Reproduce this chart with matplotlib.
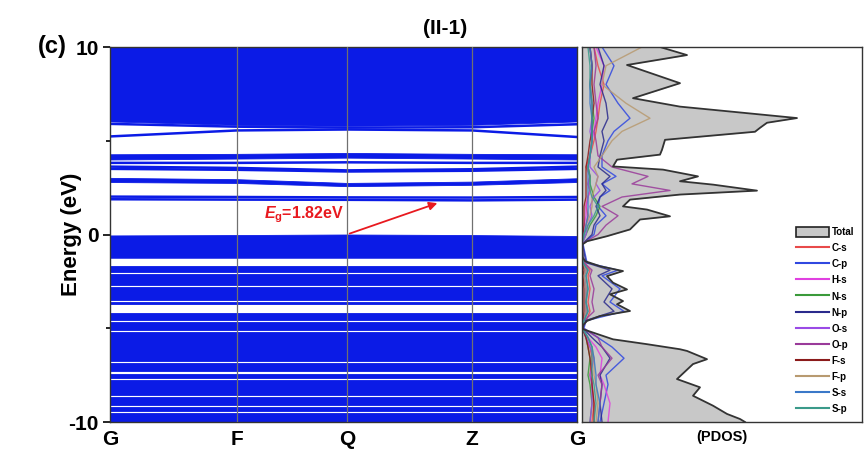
import matplotlib
matplotlib.use('Agg')
import matplotlib.pyplot as plt
import numpy as np
from matplotlib.patches import Patch
from matplotlib.lines import Line2D

plt.rcParams['font.family'] = ['Liberation Sans', 'DejaVu Sans']
plt.rcParams['font.weight'] = 'bold'
plt.rcParams['axes.labelweight'] = 'bold'
plt.rcParams['axes.unicode_minus'] = False
plt.rcParams['mathtext.fontset'] = 'custom'
plt.rcParams['mathtext.it'] = 'Liberation Sans:italic:bold'
plt.rcParams['mathtext.bf'] = 'Liberation Sans:bold'
plt.rcParams['mathtext.rm'] = 'Liberation Sans:bold'

# k-path
kpath_labels = ['G', 'F', 'Q', 'Z', 'G']
kpath_pos = [0.0, 1.27, 2.37, 3.62, 4.67]

# dense band groups (top edge, bottom edge) at the k-points
conduction_blocks = [
    (10.5, [6.03, 5.85, 5.8, 5.85, 6.03]),
    ([4.28, 4.3, 4.35, 4.3, 4.28], [4.0, 4.05, 4.1, 4.05, 4.0]),
    ([3.02, 2.95, 2.75, 2.82, 3.0], [2.8, 2.75, 2.58, 2.65, 2.8]),
]
valence_blocks = [
    ([-0.05, -0.03, 0.0, -0.03, -0.08], -1.24),
    (-1.69, -1.98),
    (-2.1, -2.7),
    (-2.8, -3.5),
    (-3.6, -3.7),
    (-4.17, -4.55),
    (-4.67, -5.08),
    (-5.2, -6.77),
    (-6.87, -7.3),
    (-7.42, -7.66),
    (-7.76, -8.55),
    (-8.65, -9.08),
    (-9.18, -9.43),
    (-9.53, -10.5),
]
# single bands
single_bands = [
    [5.23, 5.55, 5.6, 5.55, 5.2],
    [5.9, 5.75, 5.7, 5.72, 5.88],
    [3.82, 3.82, 3.85, 3.82, 3.82],
    [3.62, 3.55, 3.42, 3.48, 3.62],
    [3.5, 3.45, 3.36, 3.4, 3.5],
    [2.02, 2.0, 1.98, 1.97, 2.0],
    [1.88, 1.86, 1.85, 1.82, 1.86],
]

# total DOS
total_energy = [-10.0, -9.84, -9.57, -9.13, -8.6, -8.15, -7.71, -6.91, -6.65, -6.21,
                -6.12, -5.85, -5.59, -5.05, -4.84, -4.61, -4.35, -4.08, -3.72, -3.55,
                -3.19, -2.93, -2.57, -2.22, -1.95, -1.69, -1.42, -1.2, -0.53, -0.36,
                -0.09, 0.27, 0.8, 0.97, 1.33, 1.5, 1.86, 2.13, 2.34, 2.66,
                2.84, 3.1, 3.46, 3.63, 3.99, 4.26, 4.52, 5.05, 5.48, 5.69,
                5.96, 6.21, 6.56, 6.82, 7.27, 8.07, 9.04, 9.57, 10.0]
total_dos = [8.15, 7.9, 7.25, 6.55, 5.55, 5.9, 4.75, 5.55, 6.25, 5.25,
             4.9, 3.25, 1.55, 0.05, 0.05, 0.25, 0.9, 2.4, 1.75, 2.05,
             1.4, 2.25, 1.55, 1.25, 2.05, 0.9, 0.15, 0.02, 0.02, 0.25,
             1.25, 2.4, 2.9, 4.4, 3.25, 2.05, 2.4, 4.9, 8.75, 6.55,
             4.9, 5.8, 4.05, 1.55, 1.75, 3.9, 4.0, 4.15, 8.65, 8.9,
             9.25, 10.75, 7.4, 4.9, 2.55, 4.9, 2.25, 5.25, 3.9]

# projected DOS
pdos_energy = [-10, -9, -8, -7.5, -6.6, -6, -5.5, -5, -4.6, -4.1, -3.6, -2.9, -2.2, -1.9, -1.5,
               -0.5, 0, 0.5, 1, 1.5, 2, 2.35, 2.7, 3.1, 3.6, 4.2, 5, 5.5, 6.2, 7, 8, 9, 10]
pdos_labels = ['C-s', 'C-p', 'H-s', 'N-s', 'N-p', 'O-s', 'O-p', 'F-s', 'F-p', 'S-s', 'S-p']
pdos_colors = ['#e84a4a', '#3048e0', '#e040e0', '#3a9a3a', '#2a2a8c', '#9a4ae6',
               '#9a3a9a', '#8b1a1a', '#b89a70', '#3a78c8', '#3a9a8a']
c_s = [0.5, 0.6, 0.5, 0.4, 0.5, 0.4, 0.2, 0.05, 0.2, 0.4, 0.3, 0.4, 0.3, 0.4, 0.1,
       0.0, 0.1, 0.2, 0.3, 0.2, 0.3, 0.4, 0.3, 0.4, 0.2, 0.4, 0.6, 0.7, 0.8, 0.9, 1.1, 0.8, 0.6]
c_p = [0.9, 1.1, 1.3, 1.2, 2.1, 1.5, 0.8, 0.1, 0.2, 2.1, 1.4, 1.9, 1.0, 1.8, 0.25,
       0.05, 0.6, 0.7, 1.2, 0.8, 0.9, 1.4, 1.0, 1.7, 1.0, 1.0, 1.3, 1.6, 2.4, 1.8, 1.2, 1.6, 1.0]
h_s = [1.3, 1.4, 1.1, 0.9, 1.0, 0.7, 0.3, 0.02, 0.1, 0.2, 0.2, 0.2, 0.1, 0.2, 0.05,
       0.0, 0.05, 0.1, 0.2, 0.2, 0.3, 0.4, 0.3, 0.4, 0.3, 0.4, 0.5, 0.6, 0.7, 0.8, 1.0, 1.1, 0.7]
n_s = [0.4, 0.5, 0.4, 0.3, 0.4, 0.3, 0.2, 0.02, 0.1, 0.2, 0.2, 0.2, 0.1, 0.2, 0.05,
       0.0, 0.2, 0.4, 0.7, 0.9, 0.6, 0.5, 0.4, 0.4, 0.3, 0.4, 0.5, 0.5, 0.6, 0.5, 0.4, 0.5, 0.4]
n_p = [1.0, 0.9, 1.0, 0.9, 1.4, 1.0, 0.5, 0.05, 0.15, 1.6, 1.1, 1.5, 0.8, 1.4, 0.2,
       0.02, 0.5, 0.6, 0.9, 0.7, 0.9, 1.2, 1.0, 1.4, 0.8, 0.9, 1.1, 1.0, 1.3, 1.2, 0.9, 1.1, 0.8]
o_s = [0.4, 0.5, 0.5, 0.4, 0.6, 0.4, 0.2, 0.02, 0.1, 0.2, 0.2, 0.2, 0.1, 0.2, 0.05,
       0.0, 0.2, 0.3, 0.5, 0.4, 0.6, 0.9, 0.7, 0.8, 0.4, 0.4, 0.5, 0.4, 0.5, 0.5, 0.4, 0.5, 0.4]
o_p = [0.8, 0.9, 1.0, 0.8, 1.5, 1.0, 0.8, 0.05, 0.1, 0.6, 0.5, 0.6, 0.4, 0.5, 0.1,
       0.0, 0.8, 1.2, 1.8, 1.0, 2.0, 4.4, 2.5, 3.3, 1.5, 0.8, 0.7, 0.6, 0.8, 0.7, 0.6, 0.7, 0.6]
f_s = [0.6, 0.6, 0.5, 0.5, 0.4, 0.3, 0.2, 0.02, 0.05, 0.1, 0.1, 0.1, 0.05, 0.1, 0.02,
       0.0, 0.05, 0.1, 0.1, 0.1, 0.2, 0.2, 0.2, 0.2, 0.2, 0.3, 0.4, 0.5, 0.5, 0.6, 0.5, 0.5, 0.4]
f_p = [0.7, 0.8, 0.7, 0.6, 0.6, 0.5, 0.3, 0.02, 0.1, 0.2, 0.2, 0.2, 0.1, 0.2, 0.05,
       0.0, 0.1, 0.2, 0.4, 0.5, 0.5, 0.6, 0.7, 0.8, 0.6, 1.0, 1.5, 2.0, 3.4, 2.2, 1.0, 1.2, 3.0]
s_s = [0.8, 0.9, 0.7, 0.7, 0.6, 0.5, 0.3, 0.02, 0.1, 0.3, 0.2, 0.3, 0.2, 0.3, 0.05,
       0.0, 0.1, 0.2, 0.3, 0.3, 0.3, 0.3, 0.3, 0.3, 0.3, 0.4, 0.5, 0.5, 0.5, 0.4, 0.4, 0.5, 0.4]
s_p = [0.6, 0.7, 0.6, 0.5, 0.5, 0.5, 0.3, 0.02, 0.1, 0.3, 0.2, 0.3, 0.2, 0.3, 0.05,
       0.0, 0.1, 0.3, 0.6, 0.8, 0.5, 0.4, 0.4, 0.4, 0.3, 0.4, 0.5, 0.5, 0.5, 0.5, 0.4, 0.4, 0.3]
pdos_values = [c_s, c_p, h_s, n_s, n_p, o_s, o_p, f_s, f_p, s_s, s_p]

band_color = '#0b1be6'
red = '#e8191f'

fig = plt.figure(figsize=(8.65, 4.55), dpi=100)
ax = fig.add_axes([110 / 865, 1 - 422 / 455, 467 / 865, 375 / 455])
axd = fig.add_axes([582 / 865, 1 - 422 / 455, 280 / 865, 375 / 455])

# band structure
for top, bottom in conduction_blocks + valence_blocks:
    ax.fill_between(kpath_pos, top, bottom, color=band_color, lw=0.6)
for band in single_bands:
    ax.plot(kpath_pos, band, color=band_color, lw=1.8)
for k in kpath_pos[1:-1]:
    ax.axvline(k, color='#707070', lw=0.9, zorder=3)

ax.set_xlim(kpath_pos[0], kpath_pos[-1])
ax.set_ylim(-10, 10)
ax.set_xticks(kpath_pos)
ax.set_xticklabels(kpath_labels, fontsize=15)
ax.tick_params(axis='x', length=0, pad=6)
ax.set_yticks([-10, 0, 10])
ax.set_yticks([-5, 5], minor=True)
ax.tick_params(axis='y', which='major', length=5, width=1.2, labelsize=15, pad=3)
ax.tick_params(axis='y', which='minor', length=3, width=1.2)
ax.set_ylabel('Energy (eV)', fontsize=16)
ax.yaxis.set_label_coords(-0.06, 0.5)
for s in ax.spines.values():
    s.set_color('#333333')
    s.set_linewidth(1.0)

ax.annotate('', xy=(3.3, 1.72), xytext=(2.37, 0.0),
            arrowprops=dict(arrowstyle='-|>', color=red, lw=1.3, mutation_scale=12),
            zorder=5)
ax.text(2.34, 1.05, r'$E_{\mathbf{g}}$=1.82eV', color=red, fontsize=11.5,
        ha='right', va='center', zorder=5)

# PDOS
axd.fill_betweenx(total_energy, 0, total_dos, color='#c8c8c8', lw=0)
for vals, col in zip(pdos_values, pdos_colors):
    axd.plot(vals, pdos_energy, color=col, lw=1.0, alpha=0.85)
axd.plot(total_dos, total_energy, color='#333333', lw=1.3)
axd.set_xlim(0, 14)
axd.set_ylim(-10, 10)
axd.set_xticks([])
axd.set_yticks([])
axd.set_xlabel('(PDOS)', fontsize=10.5, labelpad=6)
for s in axd.spines.values():
    s.set_color('#333333')
    s.set_linewidth(1.0)

handles = [Patch(facecolor='#c8c8c8', edgecolor='#222222', lw=1.2, label='Total')]
handles += [Line2D([], [], color=c, lw=1.5, label=l) for c, l in zip(pdos_colors, pdos_labels)]
axd.legend(handles=handles, loc='lower right', frameon=False, fontsize=7,
           handlelength=3.4, handleheight=1.2, labelspacing=0.6, handletextpad=0.3,
           borderaxespad=0.4)

fig.text(445 / 865, 1 - 28 / 455, '(II-1)', fontsize=15, ha='center', va='center')
fig.text(52 / 865, 1 - 46 / 455, '(c)', fontsize=17, ha='center', va='center')

fig.savefig('out.png', dpi=100)
